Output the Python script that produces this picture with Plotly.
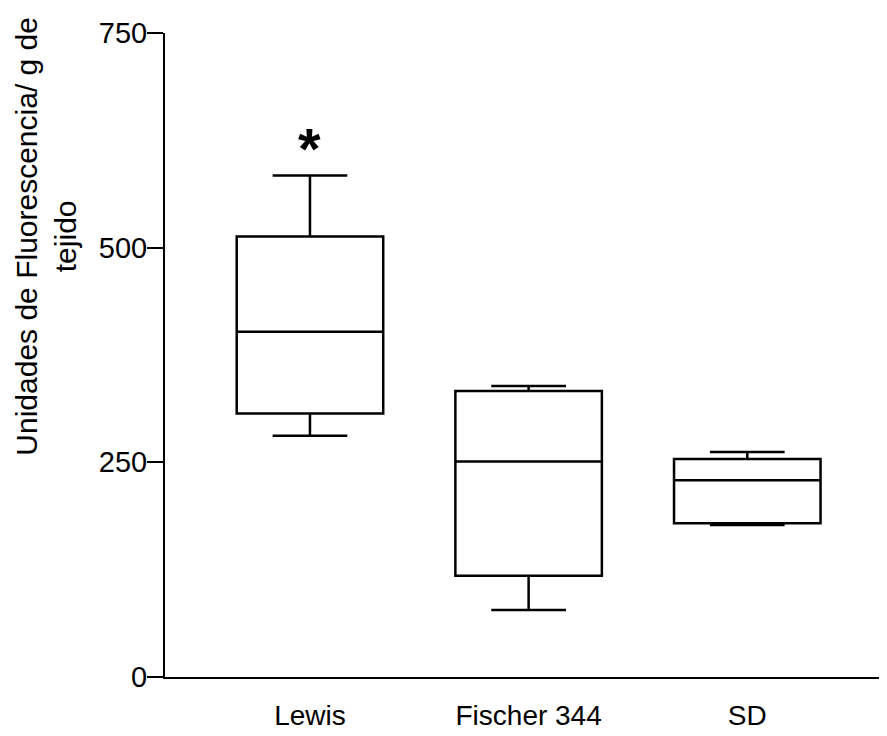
import plotly.graph_objects as go

categories = ["Lewis", "Fischer 344", "SD"]
q1 = [307, 118, 179]
median = [402, 251, 229]
q3 = [513, 333, 254]
lower = [281, 78, 177]
upper = [584, 339, 262]
y_ticks = [0, 250, 500, 750]
y_title = "Unidades de Fluorescencia/ g de<br>tejido"
star_label = "<b>*</b>"
star_y = 616

SANS = "Liberation Sans, Arial, sans-serif"

fig = go.Figure()
fig.add_trace(go.Box(
    x=categories,
    q1=q1, median=median, q3=q3,
    lowerfence=lower, upperfence=upper,
    boxpoints=False,
    width=0.67,
    whiskerwidth=0.51,
    fillcolor="rgba(0,0,0,0)",
    line=dict(color="black", width=2.5),
    showlegend=False,
    hoverinfo="skip",
))

fig.add_annotation(x="Lewis", y=star_y, xref="x", yref="y", text=star_label,
                   showarrow=False, font=dict(family=SANS, size=58, color="black"),
                   xanchor="center", yanchor="middle")

fig.add_annotation(x=-0.166, y=0.684, xref="paper", yref="paper", text=y_title,
                   textangle=-90, showarrow=False, align="center",
                   font=dict(family=SANS, size=30, color="black"),
                   xanchor="center", yanchor="middle")

fig.update_layout(
    width=887, height=736,
    margin=dict(l=157, r=8, t=25, b=67, autoexpand=False),
    paper_bgcolor="white", plot_bgcolor="white",
    xaxis=dict(
        type="category", range=[-0.663, 2.639],
        showline=True, linecolor="black", linewidth=2,
        showgrid=False, zeroline=False, ticks="",
        tickfont=dict(family=SANS, size=28, color="black"),
        ticklabelstandoff=12, automargin=False,
    ),
    yaxis=dict(
        range=[0, 750], tickvals=y_ticks, ticktext=[str(v) for v in y_ticks],
        showline=True, linecolor="black", linewidth=2,
        showgrid=False, zeroline=False,
        ticks="outside", ticklen=16, tickwidth=2, tickcolor="black",
        tickfont=dict(family=SANS, size=29, color="black"),
        ticklabelstandoff=-6, automargin=False,
    ),
)

fig.write_html("out.html")
